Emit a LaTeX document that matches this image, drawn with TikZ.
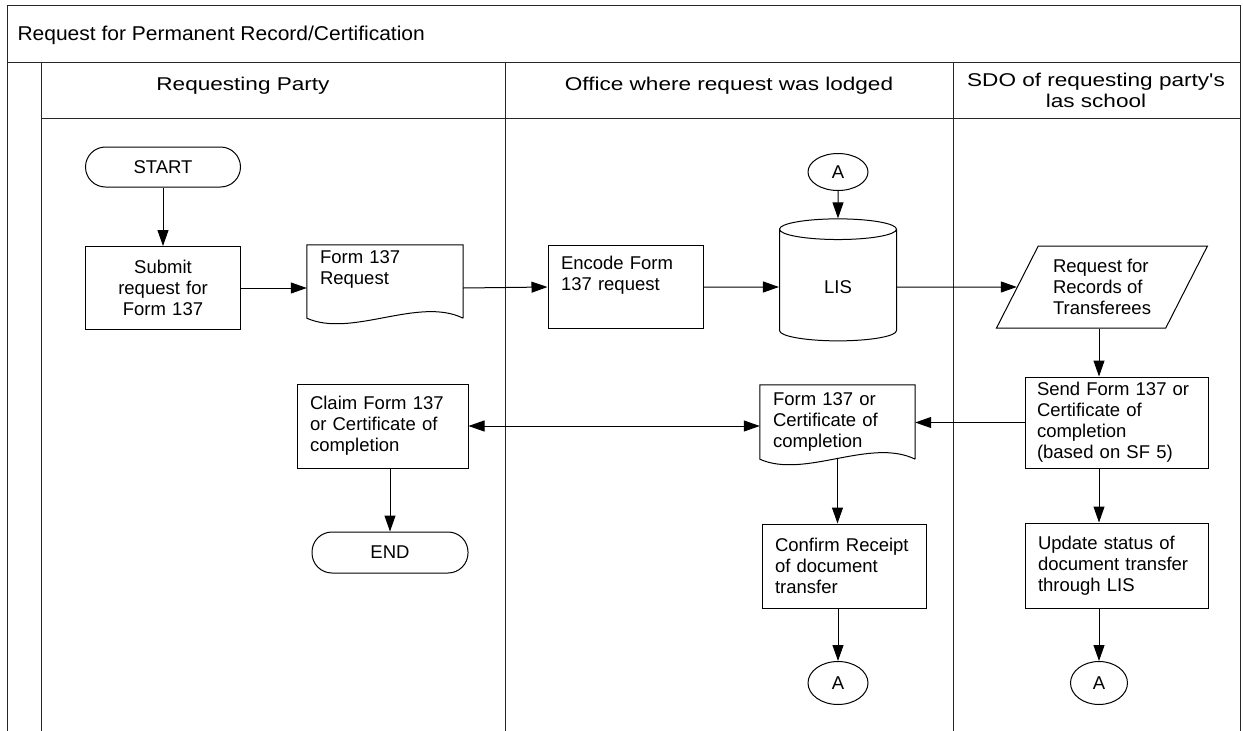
\documentclass[tikz,border=0pt]{standalone}
\usepackage{fontspec}
\setmainfont{Liberation Sans}
\newfontfamily\headfont[FakeStretch=1.22]{Liberation Sans}
\newfontfamily\titlefont[FakeStretch=1.05]{Liberation Sans}
\usetikzlibrary{arrows.meta,positioning,shapes.geometric}
\newcommand{\bodyfont}{\fontsize{18.5}{21}\selectfont}
\newcommand{\docborder}[1]{\draw[line width=1pt] (#1.south east) -- (#1.north east) -- (#1.north west) -- (#1.south west) .. controls +(45,20) and +(-45,-22) .. (#1.south east);}
\tikzset{
  frame/.style={line width=1pt, black!85},
  proc/.style={draw, line width=1pt, font=\bodyfont, align=left, inner xsep=13pt, inner ysep=0pt, minimum height=83},
  term/.style={draw, line width=1pt, font=\bodyfont, rounded corners=20, minimum width=155, minimum height=40},
  doc/.style={font=\bodyfont, align=left, inner xsep=13pt, inner ysep=0pt, minimum height=73},
  conn/.style={draw, ellipse, line width=1pt, font=\bodyfont, inner sep=0pt},
  arr/.style={line width=1pt, -{Triangle[length=16pt,width=11pt]}},
  arrboth/.style={line width=1pt, {Triangle[length=16pt,width=11pt]}-{Triangle[length=16pt,width=11pt]}},
  lanehead/.style={font=\headfont\fontsize{18.5}{21}\selectfont, align=center}
}

\begin{document}
\begin{tikzpicture}[x=1pt, y=-1pt]
    \useasboundingbox (0,0) rectangle (1243,731);
    \draw[frame] (7,731) -- (7,5) -- (1240,5) -- (1240,731);
    \draw[frame] (7,62) -- (1240,62);
    \draw[frame] (41,118) -- (1240,118);
    \foreach \x in {41,505,953} \draw[frame] (\x,62) -- (\x,731);
    \node[anchor=west, font=\titlefont\fontsize{20}{24}\selectfont] (title) at (14,35) {Request for Permanent Record/Certification};
    \node[lanehead] (party) at (243,86) {Requesting Party};
    \node[lanehead] (office) at (729,86) {Office where request was lodged};
    \node[lanehead] (sdo) at (1096,90) {SDO of requesting party's\\las school};
    \node[term] (start) at (163,167) {START};
    \node[proc, text width=129, align=center, below=58.5pt of start] (submit) {Submit\\request for\\Form 137};
    \node[doc, text width=130] (req) at (385,281.5) {Form 137\\Request\\\strut};
    \node[proc, text width=129] (encode) at (625.5,287) {Encode Form\\137 request\\\strut};
    \node[conn, minimum width=60, minimum height=37] (lisA) at (838,172) {A};
    \node[cylinder, shape border rotate=90, draw, line width=1pt, aspect=0.6, minimum width=117, minimum height=122, font=\bodyfont] (lis) at (838,287) {LIS};
    \node[trapezium, trapezium left angle=60, trapezium right angle=120, trapezium stretches=true, draw, line width=1pt, minimum width=211, minimum height=82, font=\bodyfont, align=left, inner sep=0pt] (xfer) at (1102,287) {Request for\\Records of\\Transferees};
    \node[proc, text width=159, inner xsep=12pt, minimum height=91] (send) at (1116.5,422.5) {Send Form 137 or\\Certificate of\\completion\\(based on SF 5)};
    \node[doc, text width=129, minimum height=74] (cert) at (837.5,422) {Form 137 or\\Certificate of\\completion};
    \node[proc, text width=145, minimum height=84] (claim) at (382.5,426) {Claim Form 137\\or Certificate of\\completion};
    \node[term, minimum width=156, minimum height=41] (stop) at (390,552.5) {END};
    \node[proc, text width=138, minimum height=84] (confirm) at (844,566) {Confirm Receipt\\of document\\transfer};
    \node[proc, text width=157, minimum height=85] (update) at (1116.5,565.5) {Update status of\\document transfer\\through LIS};
    \node[conn, minimum width=60, minimum height=43] (aMid) at (838,683) {A};
    \node[conn, minimum width=57, minimum height=43] (aRight) at (1099,683) {A};
    \docborder{req}
    \docborder{cert}
    \draw[arr] (start) -- (submit);
    \draw[arr] (submit.east) -- (submit.east -| req.west);
    \draw[arr] (req.east |- submit.east) -- (encode.west);
    \draw[arr] (encode) -- (lis);
    \draw[arr] (lisA) -- (lis);
    \draw[arr] (lis) -- (xfer);
    \draw[arr] (xfer.south -| aRight) -- (send.north -| aRight);
    \draw[arr] (send.west) -- (send.west -| cert.east);
    \draw[arrboth] (claim.east) -- (claim.east -| cert.west);
    \draw[arr] (claim.south -| stop) -- (stop);
    \draw[arr] (cert.south) -- (cert.south |- confirm.north);
    \draw[arr] (confirm.south -| aMid) -- (aMid);
    \draw[arr] (send.south -| aRight) -- (update.north -| aRight);
    \draw[arr] (update.south -| aRight) -- (aRight);
\end{tikzpicture}
\end{document}
